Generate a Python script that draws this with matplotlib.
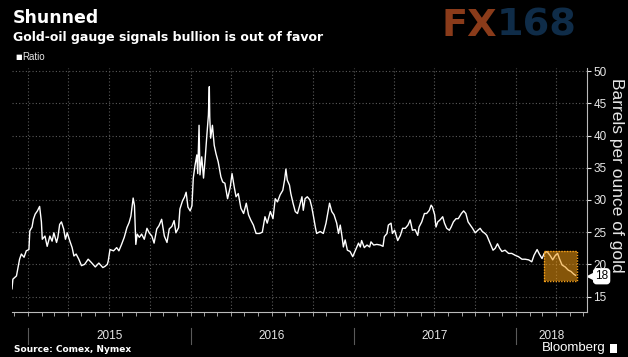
import pandas as pd
import matplotlib
matplotlib.use('Agg')
import matplotlib.pyplot as plt
import matplotlib.dates as mdates
from matplotlib.patches import Rectangle
from matplotlib.transforms import blended_transform_factory

# gold / oil ratio
dates = [
    '2014-11-26', '2014-11-28', '2014-12-06', '2014-12-13', '2014-12-17', '2014-12-23', '2014-12-28',
    '2015-01-03', '2015-01-05', '2015-01-10', '2015-01-13', '2015-01-17', '2015-01-22', '2015-01-27',
    '2015-01-31', '2015-02-02', '2015-02-08', '2015-02-13', '2015-02-19', '2015-02-24', '2015-02-28',
    '2015-03-06', '2015-03-09', '2015-03-13', '2015-03-17', '2015-03-22', '2015-03-26', '2015-03-30',
    '2015-04-05', '2015-04-10', '2015-04-14', '2015-04-19', '2015-04-25', '2015-05-01', '2015-05-08',
    '2015-05-16', '2015-05-23', '2015-06-01', '2015-06-09', '2015-06-18', '2015-06-23', '2015-06-28',
    '2015-06-30', '2015-07-04', '2015-07-12', '2015-07-19', '2015-07-24', '2015-07-30', '2015-08-05',
    '2015-08-11', '2015-08-16', '2015-08-20', '2015-08-25', '2015-08-28', '2015-08-31', '2015-09-03',
    '2015-09-08', '2015-09-13', '2015-09-19', '2015-09-25', '2015-09-30', '2015-10-06', '2015-10-11',
    '2015-10-17', '2015-10-22', '2015-10-28', '2015-11-03', '2015-11-09', '2015-11-14', '2015-11-20',
    '2015-11-25', '2015-11-29', '2015-12-05', '2015-12-08', '2015-12-14', '2015-12-18', '2015-12-22',
    '2015-12-26', '2015-12-31', '2016-01-04', '2016-01-07', '2016-01-11', '2016-01-15', '2016-01-17',
    '2016-01-20', '2016-01-22', '2016-01-26', '2016-01-30', '2016-02-03', '2016-02-06', '2016-02-10',
    '2016-02-12', '2016-02-13', '2016-02-15', '2016-02-19', '2016-02-23', '2016-02-27', '2016-03-03',
    '2016-03-09', '2016-03-13', '2016-03-18', '2016-03-24', '2016-03-30', '2016-04-03', '2016-04-08',
    '2016-04-12', '2016-04-17', '2016-04-23', '2016-04-29', '2016-05-05', '2016-05-10', '2016-05-15',
    '2016-05-21', '2016-05-27', '2016-06-04', '2016-06-10', '2016-06-16', '2016-06-21', '2016-06-28',
    '2016-07-04', '2016-07-09', '2016-07-14', '2016-07-20', '2016-07-26', '2016-07-30', '2016-08-02',
    '2016-08-05', '2016-08-10', '2016-08-13', '2016-08-18', '2016-08-23', '2016-08-28', '2016-09-01',
    '2016-09-07', '2016-09-10', '2016-09-14', '2016-09-19', '2016-09-25', '2016-09-29', '2016-10-03',
    '2016-10-07', '2016-10-10', '2016-10-18', '2016-10-25', '2016-10-31', '2016-11-08', '2016-11-13',
    '2016-11-18', '2016-11-24', '2016-11-28', '2016-12-02', '2016-12-06', '2016-12-09', '2016-12-13',
    '2016-12-18', '2016-12-24', '2016-12-30', '2017-01-04', '2017-01-12', '2017-01-16', '2017-01-19',
    '2017-01-25', '2017-01-31', '2017-02-06', '2017-02-09', '2017-02-15', '2017-02-22', '2017-03-02',
    '2017-03-08', '2017-03-11', '2017-03-17', '2017-03-20', '2017-03-26', '2017-03-29', '2017-04-03',
    '2017-04-10', '2017-04-16', '2017-04-21', '2017-04-27', '2017-05-03', '2017-05-08', '2017-05-13',
    '2017-05-19', '2017-05-25', '2017-05-28', '2017-06-03', '2017-06-09', '2017-06-14', '2017-06-20',
    '2017-06-24', '2017-06-27', '2017-07-02', '2017-07-05', '2017-07-09', '2017-07-14', '2017-07-20',
    '2017-07-24', '2017-07-29', '2017-08-04', '2017-08-08', '2017-08-13', '2017-08-19', '2017-08-24',
    '2017-08-31', '2017-09-05', '2017-09-10', '2017-09-15', '2017-09-20', '2017-09-25', '2017-10-01',
    '2017-10-07', '2017-10-12', '2017-10-17', '2017-10-23', '2017-10-27', '2017-11-02', '2017-11-10',
    '2017-11-15', '2017-11-20', '2017-11-25', '2017-11-30', '2017-12-07', '2017-12-15', '2017-12-22',
    '2017-12-30', '2018-01-06', '2018-01-14', '2018-01-21', '2018-01-29', '2018-02-05', '2018-02-10',
    '2018-02-17', '2018-02-22', '2018-02-28', '2018-03-05', '2018-03-11', '2018-03-18', '2018-03-24',
    '2018-03-30', '2018-04-04', '2018-04-08', '2018-04-14', '2018-04-21', '2018-04-28', '2018-05-04',
    '2018-05-10', '2018-05-14',
]
ratio = [
    16.2, 17.7, 18.2, 20.8, 21.6, 21.1, 22.1,
    22.3, 25.2, 25.8, 27.0, 27.8, 28.3, 29.0,
    26.6, 23.9, 24.4, 22.8, 24.4, 23.6, 24.9,
    23.4, 24.2, 26.2, 26.6, 25.5, 23.9, 24.9,
    23.6, 22.6, 21.3, 21.6, 20.8, 19.8, 20.0,
    20.8, 20.3, 19.6, 20.2, 19.5, 19.7, 20.0,
    20.5, 22.3, 22.1, 22.6, 22.1, 23.1, 24.2,
    25.7, 26.5, 27.5, 30.3, 29.1, 23.1, 24.7,
    24.2, 24.7, 23.9, 25.6, 24.9, 24.4, 23.3,
    25.5, 26.0, 27.0, 24.4, 23.4, 25.5, 25.9,
    26.8, 24.9, 25.7, 28.6, 29.9, 30.4, 31.2,
    28.9, 28.3, 29.1, 33.4, 35.4, 37.0, 34.1,
    41.6, 33.9, 36.7, 33.4, 36.7, 39.6, 43.2,
    47.6, 42.9, 39.6, 41.6, 38.5, 37.2, 35.9,
    33.6, 32.8, 32.6, 30.2, 32.0, 34.1, 32.0,
    30.5, 31.0, 28.7, 27.9, 29.5, 27.7, 26.9,
    26.1, 24.8, 24.8, 25.0, 27.4, 26.4, 28.2,
    27.1, 30.2, 29.7, 30.8, 31.5, 33.1, 34.8,
    33.1, 32.3, 31.0, 29.5, 28.2, 27.9, 28.9,
    30.5, 28.4, 30.2, 30.5, 30.0, 28.9, 27.4,
    25.8, 24.8, 25.1, 24.8, 26.4, 29.5, 28.2,
    27.7, 26.4, 24.8, 26.1, 24.3, 22.7, 23.8,
    22.2, 22.0, 21.2, 22.0, 23.3, 22.7, 23.7,
    22.6, 23.0, 22.7, 23.5, 23.0, 23.1, 23.0,
    22.8, 24.3, 24.8, 26.1, 26.4, 24.8, 25.3,
    23.7, 24.5, 25.6, 25.6, 26.1, 26.9, 25.3,
    25.4, 24.5, 25.8, 26.6, 27.9, 27.9, 28.4,
    29.2, 28.9, 27.7, 25.8, 26.6, 26.9, 27.4,
    26.4, 25.6, 25.3, 25.8, 26.6, 27.1, 27.1,
    27.9, 28.3, 27.9, 26.6, 26.1, 25.6, 24.9,
    25.3, 25.6, 25.1, 24.8, 24.5, 23.5, 22.2,
    22.5, 23.2, 22.5, 22.0, 22.2, 21.7, 21.7,
    21.4, 21.2, 20.8, 20.8, 20.7, 20.4, 21.4,
    22.3, 21.6, 20.9, 21.7, 22.0, 21.4, 20.7,
    21.4, 21.7, 20.9, 19.9, 19.6, 19.1, 18.9,
    18.5, 18.3,
]
years = ['2015', '2016', '2017', '2018']
yticks = [15, 20, 25, 30, 35, 40, 45, 50]
box_dates = ['2018-03-05', '2018-05-18']
box_vals = [17.4, 22.0]

plt.rcParams['font.family'] = ['Liberation Sans', 'DejaVu Sans']
fg = '#e6e6e6'
grid_c = '#5a5a5a'

fig = plt.figure(figsize=(6.28, 3.57), dpi=100, facecolor='black')
ax = fig.add_axes([12 / 628, 1 - 312 / 357, 575 / 628, 244 / 357])
ax.set_facecolor('black')

d = pd.to_datetime(dates)
ax.plot(d, ratio, color='white', lw=1.0, zorder=3)

# highlighted recent stretch
b0, b1 = pd.to_datetime(box_dates)
x0, x1 = mdates.date2num(b0), mdates.date2num(b1)
ax.add_patch(Rectangle((x0, box_vals[0]), x1 - x0, box_vals[1] - box_vals[0],
                       facecolor='#f39c12', alpha=0.55, edgecolor='none', zorder=4))
ax.add_patch(Rectangle((x0, box_vals[0]), x1 - x0, box_vals[1] - box_vals[0],
                       facecolor='none', edgecolor='#f7a21b', lw=1.0, ls=(0, (1, 1)), zorder=5))

xmin, xmax = pd.Timestamp('2014-11-26'), pd.Timestamp('2018-06-09')
ax.set_xlim(xmin, xmax)
ax.set_ylim(12.6, 50.5)

# y axis on the right
ax.yaxis.tick_right()
ax.set_yticks(yticks)
ax.tick_params(axis='y', colors=fg, labelsize=8.5, length=3, width=0.8, pad=1.5)
ax.text(1.052, 0.56, 'Barrels per ounce of gold', transform=ax.transAxes, color=fg, fontsize=12.5,
        rotation=270, ha='center', va='center')

# x axis: quarterly grid, monthly ticks, no labels
ax.xaxis.set_major_locator(mdates.MonthLocator(bymonth=[1, 4, 7, 10]))
ax.xaxis.set_minor_locator(mdates.MonthLocator())
ax.tick_params(axis='x', which='both', colors='#bbbbbb', length=3, width=0.6, labelbottom=False)
ax.grid(True, which='major', color=grid_c, ls=(0, (1, 2)), lw=0.8)

for s in ['top', 'left']:
    ax.spines[s].set_visible(False)
ax.spines['right'].set_color('#bbbbbb')
ax.spines['bottom'].set_color('#bbbbbb')

trans = blended_transform_factory(ax.transData, ax.transAxes)
for y in years:
    start = pd.Timestamp(y + '-01-01')
    end = min(pd.Timestamp(str(int(y) + 1) + '-01-01'), xmax)
    mid = start + (end - start) / 2
    ax.text(mid, -0.098, y, transform=trans, ha='center', va='center', color=fg, fontsize=8.5)
    ax.plot([start, start], [-0.066, -0.131], transform=trans, color=grid_c, lw=0.8, clip_on=False)

# last value tag
tag_tr = blended_transform_factory(ax.transAxes, ax.transData)
ax.plot([1.007], [ratio[-1] - 0.15], transform=tag_tr, marker='<', ms=6, color='white', clip_on=False)
ax.text(1.014, ratio[-1] - 0.15, f'{ratio[-1]:.0f}', transform=tag_tr,
        ha='left', va='center', color='black', fontsize=8.5,
        bbox=dict(boxstyle='round,pad=0.12,rounding_size=0.25', facecolor='white', edgecolor='white'))

# titles and footer
fig.text(13 / 628, 1 - 18 / 357, 'Shunned', color='white', fontsize=12.5, fontweight='bold',
         va='center', family=['DejaVu Sans'])
fig.text(13 / 628, 1 - 37 / 357, 'Gold-oil gauge signals bullion is out of favor', color='white',
         fontsize=9, fontweight='bold', va='center', family=['DejaVu Sans'])
fig.text(15 / 628, 1 - 57 / 357, '\u25a0', color='white', fontsize=5, va='center', family=['DejaVu Sans'])
fig.text(22 / 628, 1 - 57 / 357, 'Ratio', color=fg, fontsize=7, va='center')
fig.text(14 / 628, 1 - 349 / 357, 'Source: Comex, Nymex', color='white', fontsize=6.5,
         fontweight='bold', va='center', family=['DejaVu Sans'])
fig.text(606 / 628, 1 - 348 / 357, 'Bloomberg', color='white', fontsize=9.5, ha='right', va='center')
fig.patches.append(Rectangle((610 / 628, 1 - 353 / 357), 7 / 628, 9 / 357, transform=fig.transFigure,
                             facecolor='white', edgecolor='none'))

# FX168 watermark
fig.text(497 / 628, 1 - 26 / 357, 'FX', color='#8a3b1a', fontsize=27.5, fontweight='bold', va='center',
         ha='right', family=['DejaVu Sans'])
fig.text(497 / 628, 1 - 26 / 357, '168', color='#0f2c48', fontsize=27.5, fontweight='bold', va='center',
         ha='left', family=['DejaVu Sans'])

fig.savefig('out.png', dpi=100, facecolor='black')
